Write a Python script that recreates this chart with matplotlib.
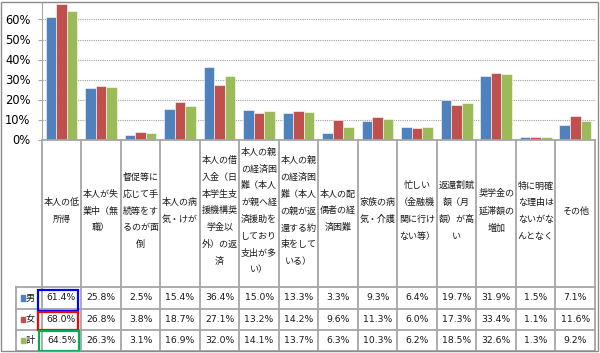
import matplotlib
matplotlib.use("Agg")
import matplotlib.pyplot as plt
from matplotlib.patches import Rectangle
from matplotlib.ticker import PercentFormatter
import numpy as np

# categories (line breaks as in the original table header)
categories = [
    "本人の低\n所得",
    "本人が失\n業中（無\n職）",
    "督促等に\n応じて手\n続等をす\nるのが面\n倒",
    "本人の病\n気・けが",
    "本人の借\n入金（日\n本学生支\n援機構奨\n学金以\n外）の返\n済",
    "本人の親\nの経済困\n難（本人\nが親へ経\n済援助を\nしており\n支出が多\nい）",
    "本人の親\nの経済困\n難（本人\nの親が返\n還する約\n束をして\nいる）",
    "本人の配\n偶者の経\n済困難",
    "家族の病\n気・介護",
    "忙しい\n（金融機\n関に行け\nない等）",
    "返還割賦\n額（月\n額）が高\nい",
    "奨学金の\n延滞額の\n増加",
    "特に明確\nな理由は\nないがな\nんとなく",
    "その他",
]
series_names = ["男", "女", "計"]
male = [61.4, 25.8, 2.5, 15.4, 36.4, 15.0, 13.3, 3.3, 9.3, 6.4, 19.7, 31.9, 1.5, 7.1]
female = [68.0, 26.8, 3.8, 18.7, 27.1, 13.2, 14.2, 9.6, 11.3, 6.0, 17.3, 33.4, 1.1, 11.6]
total = [64.5, 26.3, 3.1, 16.9, 32.0, 14.1, 13.7, 6.3, 10.3, 6.2, 18.5, 32.6, 1.3, 9.2]
series = [male, female, total]
colors = ["#4F81BD", "#C0504D", "#9BBB59"]
box_colors = ["#0000FF", "#FF0000", "#00B050"]

W, H = 600, 353
jp = ["Noto Sans CJK JP", "DejaVu Sans"]
grid_c = "#A6A6A6"

fig = plt.figure(figsize=(6, 3.53), dpi=100)

# bar chart
ax = fig.add_axes([41.7 / W, 1 - 139.5 / H, 553.3 / W, 136.5 / H])
x = np.arange(len(categories))
bw = 0.267
for i, vals in enumerate(series):
    ax.bar(x + (i - 1) * bw, np.array(vals) / 100, bw, color=colors[i],
           edgecolor="white", linewidth=0.4, zorder=3)
ax.set_xlim(-0.5, len(categories) - 0.5)
ax.set_ylim(0, 0.6825)
ax.set_yticks(np.arange(0, 0.61, 0.1))
ax.yaxis.set_major_formatter(PercentFormatter(1.0, decimals=0))
ax.set_xticks([])
ax.grid(axis="y", linestyle=(0, (1, 1)), color="#A0A0A0", linewidth=0.8, zorder=0)
for s in ["top", "right", "bottom"]:
    ax.spines[s].set_visible(False)
ax.spines["left"].set_color(grid_c)
ax.tick_params(axis="y", length=3, color=grid_c, pad=5, labelsize=8.3)

# data table below
tab = fig.add_axes([41.7 / W, 1 - 351 / H, 553.3 / W, (351 - 139.5) / H])
tab.set_xlim(-0.5, len(categories) - 0.5)
tab.set_ylim(351, 139.5)
tab.axis("off")
colw = 553.3 / len(categories)


def px(p):
    return -0.5 + (p - 41.7) / colw


lk = dict(color=grid_c, linewidth=1.3, clip_on=False)
for k in range(len(categories) + 1):
    tab.plot([k - 0.5, k - 0.5], [139.5, 351], **lk)
tab.plot([-0.5, len(categories) - 0.5], [139.5, 139.5], **lk)
for yy in [287, 309, 330, 351]:
    tab.plot([px(16), len(categories) - 0.5], [yy, yy], **lk)
tab.plot([px(16), px(16)], [287, 351], **lk)

for k, lab in enumerate(categories):
    tab.text(k, 211, lab, ha="center", va="center", fontsize=6.5,
             linespacing=2.1, family=jp, color="#1A1A1A")

rows_y = [298, 319.5, 340.5]
for i, vals in enumerate(series):
    yy = rows_y[i]
    tab.add_patch(Rectangle((px(20.5), yy - 2.6), 4.8 / colw, 5.2,
                            color=colors[i], clip_on=False))
    tab.text(px(30), yy, series_names[i], ha="center", va="center",
             fontsize=6.6, family=jp, color="#1A1A1A")
    for k, v in enumerate(vals):
        tab.text(k, yy, f"{v:.1f}%", ha="center", va="center",
                 fontsize=6.7, color="#1A1A1A")

# highlight boxes around first column
boxes = [(37.7, 290, 77.7, 310.7), (38.3, 311.7, 77.7, 330), (39, 330.7, 79, 351)]
for (x0, y0, x1, y1), c in zip(boxes, box_colors):
    tab.add_patch(Rectangle((px(x0), y0), (x1 - x0) / colw, y1 - y0,
                            fill=False, edgecolor=c, linewidth=1.6, clip_on=False, zorder=5))

# outer frame
fig.add_artist(Rectangle((1 / W, 2 / H), 596.7 / W, 349 / H, fill=False,
                         edgecolor="#8C8C8C", linewidth=1.0, transform=fig.transFigure))

fig.savefig("out.png", dpi=100)
